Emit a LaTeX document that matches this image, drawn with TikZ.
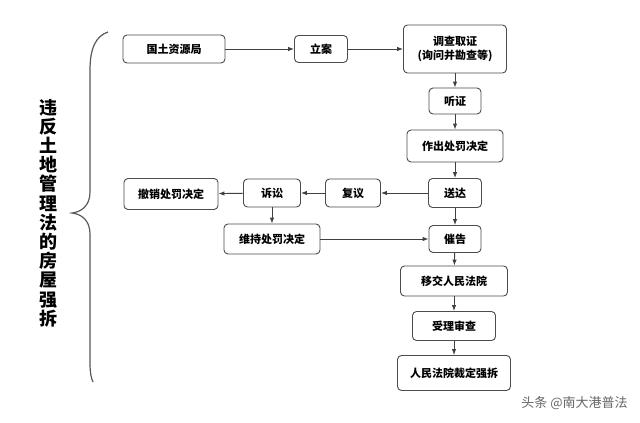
\documentclass[tikz,border=0pt]{standalone}
\usepackage{fontspec}
\setmainfont{Noto Sans CJK SC}
\usetikzlibrary{arrows.meta}
\usepackage{xcolor}

\begin{document}
\begin{tikzpicture}[x=1pt,y=-1pt,->,>={Latex[length=6pt,width=4.5pt]},draw=black!75,line width=0.9pt]
    \tikzstyle{box}=[rectangle,rounded corners=4pt,draw=black!70,fill=white,line width=0.9pt,inner sep=0pt,font=\fontsize{11}{14}\selectfont\bfseries,align=center]
    \tikzstyle{brace}=[-,draw=black!65,line width=1.2pt]

    \useasboundingbox[fill=white] (0,0) rectangle (640,423);

    % main column
    \node[box,minimum width=102pt,minimum height=28pt] (gtj) at (174,49) {国土资源局};
    \node[box,minimum width=53pt,minimum height=27pt] (la) at (321,49) {立案};
    \node[box,minimum width=103pt,minimum height=48pt] (dc) at (455,49) {调查取证\\(询问并勘查等)};
    \node[box,minimum width=52pt,minimum height=26pt] (tz) at (455,101) {听证};
    \node[box,minimum width=96pt,minimum height=32pt] (zc) at (455,146) {作出处罚决定};
    \node[box,minimum width=53pt,minimum height=29pt] (sd) at (455,193) {送达};
    \node[box,minimum width=52pt,minimum height=27pt] (cg) at (455,239) {催告};
    \node[box,minimum width=107pt,minimum height=30pt] (yj) at (454,281) {移交人民法院};
    \node[box,minimum width=83pt,minimum height=29pt] (sl) at (454,326) {受理审查};
    \node[box,minimum width=113pt,minimum height=35pt] (cd) at (454,373) {人民法院裁定强拆};

    % side branch
    \node[box,minimum width=55pt,minimum height=28pt] (fy) at (353,193) {复议};
    \node[box,minimum width=57pt,minimum height=28pt] (ss) at (272,193) {诉讼};
    \node[box,minimum width=94pt,minimum height=31pt] (cx) at (171,194) {撤销处罚决定};
    \node[box,minimum width=96pt,minimum height=30pt] (wc) at (272,239) {维持处罚决定};

    \draw (gtj) -- (la);
    \draw (la) -- (dc);
    \draw (dc) -- (tz);
    \draw (tz) -- (zc);
    \draw (zc) -- (sd);
    \draw (sd) -- (fy);
    \draw (fy) -- (ss);
    \draw (ss) -- (cx);
    \draw (ss) -- (wc);
    \draw (wc) -- (cg);
    \draw (sd) -- (cg);
    \draw (cg) -- (yj);
    \draw (yj) -- (sl);
    \draw (sl) -- (cd);

    % brace and title
    \draw[brace] (108,32) .. controls (96,36) and (90,48) .. (90,70) -- (90,192)
        .. controls (90,206) and (81,212) .. (72,213) .. controls (81,214) and (90,220) .. (90,234)
        -- (90,362) .. controls (90,372) and (91,378) .. (93,382);
    \node[font=\fontsize{18}{19.2}\selectfont\bfseries,align=center,inner sep=0pt] (title) at (48,213)
        {违\\反\\土\\地\\管\\理\\法\\的\\房\\屋\\强\\拆};

    \node[font=\fontsize{13}{15}\selectfont,text=black!60,anchor=east,inner sep=0pt] (wm) at (628,403) {头条 @南大港普法};
\end{tikzpicture}
\end{document}
